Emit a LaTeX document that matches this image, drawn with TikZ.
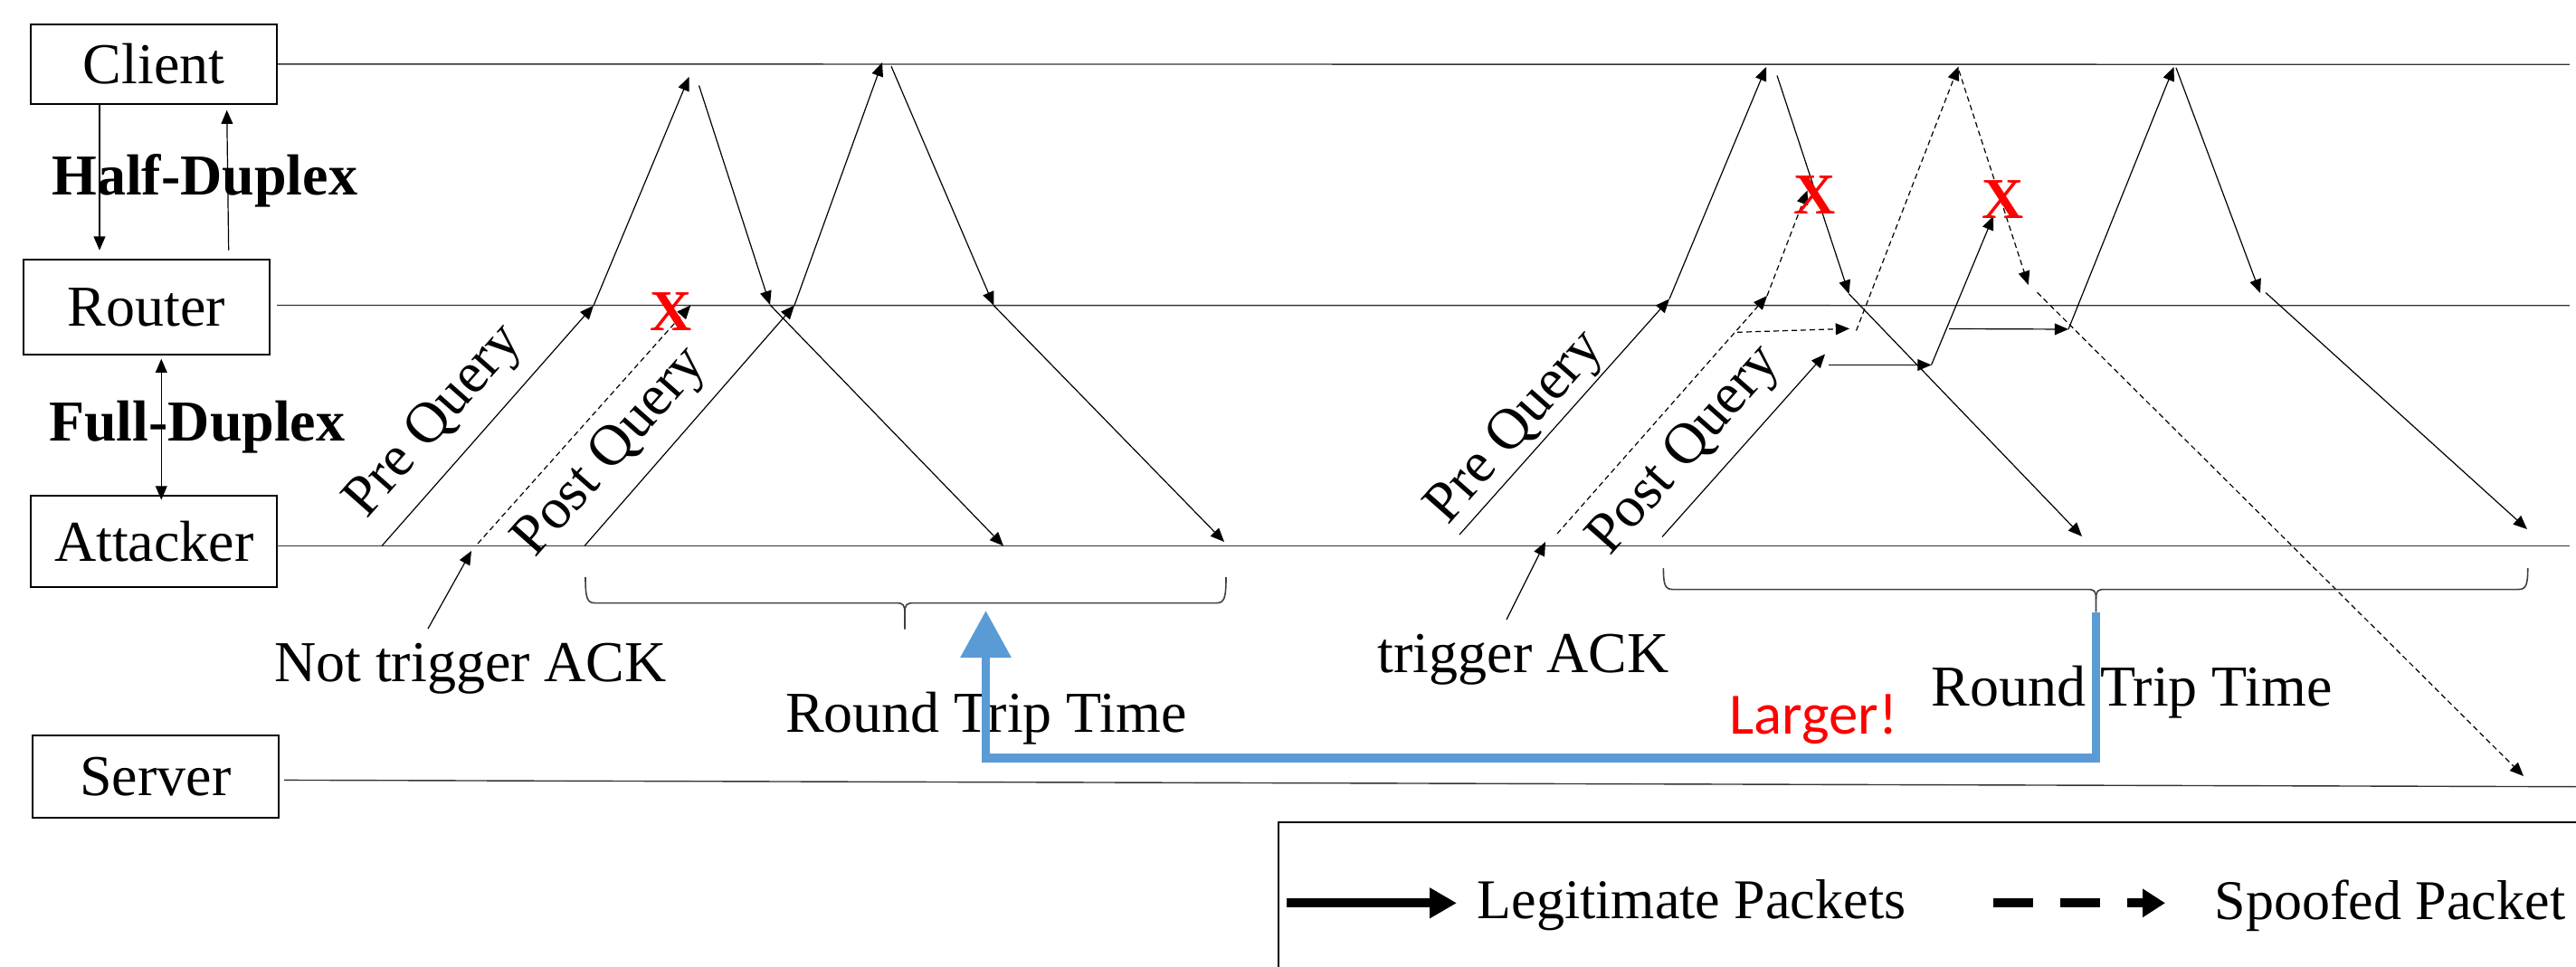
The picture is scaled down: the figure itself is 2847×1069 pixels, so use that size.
\documentclass[tikz,border=0pt]{standalone}
\usepackage{fontspec}
\setmainfont{Liberation Serif}
\newfontfamily\calibrifont{Carlito}
\usetikzlibrary{arrows.meta}
\definecolor{rttblue}{RGB}{91,155,213}
\definecolor{bracegray}{RGB}{64,64,64}

\begin{document}
\begin{tikzpicture}[x=0.25pt,y=-0.25pt,
  every node/.style={font=\fontsize{16pt}{19pt}\selectfont, inner sep=0pt},
  entity/.style={draw, line width=0.5pt, inner sep=0pt},
  lifeline/.style={line width=0.35pt, draw=black!80},
  msg/.style={line width=0.3pt, -{Triangle[length=3.8pt,width=3.2pt]}},
  spoof/.style={msg, dash pattern=on 1.5pt off 1pt},
  dropmark/.style={text=red, font=\fontsize{16pt}{19pt}\selectfont\bfseries},
  duplexlabel/.style={font=\fontsize{16pt}{19pt}\selectfont\bfseries},
  tiltlabel/.style={rotate=48.5},
  rttbrace/.style={line width=0.4pt, draw=bracegray},
  legendtext/.style={font=\fontsize{15.5pt}{18pt}\selectfont},
]
\useasboundingbox (0,0) rectangle (2847,1069);
\clip (0,0) rectangle (2847,1069);

% entities
\node[entity, minimum width=68pt, minimum height=22.1pt] (client) at (170,70.85) {Client};
\node[entity, minimum width=67.9pt, minimum height=26.45pt] (router) at (161.75,339.6) {Router};
\node[entity, minimum width=67.9pt, minimum height=25.25pt] (attacker) at (170.2,598.5) {Attacker};
\node[entity, minimum width=68.1pt, minimum height=22.65pt] (server) at (171.9,858.3) {Server};

% lifelines
\coordinate (clientEnd) at (2840,71.3);
\coordinate (routerStart) at (306,337.5);
\coordinate (routerEnd) at (2840,337.8);
\coordinate (attackerStart) at (306,603.5);
\coordinate (attackerEnd) at (2840,603.5);
\coordinate (serverStart) at (314,862.4);
\coordinate (serverEnd) at (2847,869.7);
\draw[lifeline] (client.east) -- (clientEnd);
\draw[lifeline] (routerStart) -- (routerEnd);
\draw[lifeline] (attackerStart) -- (attackerEnd);
\draw[lifeline] (serverStart) -- (serverEnd);

% link types
\coordinate (hdDown) at (110,276.7);
\coordinate (hdUpFrom) at (252.7,276.7);
\coordinate (hdUpTo) at (250.7,121.7);
\node[duplexlabel, anchor=base] (half) at (226.3,215.5) {Half-Duplex};
\draw[msg] (client.south -| hdDown) -- (hdDown);
\draw[msg] (hdUpFrom) -- (hdUpTo);
\coordinate (fdTop) at (178.3,396.7);
\coordinate (fdBot) at (178.3,552.5);
\node[duplexlabel, anchor=base] (full) at (217.8,487) {Full-Duplex};
\draw[line width=0.3pt, {Triangle[length=3.8pt,width=3.2pt]}-{Triangle[length=3.8pt,width=3.2pt]}] (fdTop) -- (fdBot);

% ---- first measurement: spoofed ACK does not trigger ----
\coordinate (a1s) at (422,603.5);  \coordinate (a1r) at (656,337.8);  \coordinate (a1c) at (761.5,85);
\coordinate (a2s) at (528,601);    \coordinate (a2r) at (763.3,337.5);
\coordinate (a3s) at (646,603.5);  \coordinate (a3r) at (878,337.5);  \coordinate (a3c) at (975,69);
\coordinate (a4c) at (772.5,94.5); \coordinate (a4r) at (851,337);    \coordinate (a4a) at (1109,603.5);
\coordinate (a5c) at (985,73.3);   \coordinate (a5r) at (1098.3,337.8); \coordinate (a5a) at (1353,599);
\draw[msg] (a1s) -- (a1r); \draw[msg] (a1r) -- (a1c);
\draw[spoof] (a2s) -- (a2r);
\draw[msg] (a3s) -- (a3r); \draw[msg] (a3r) -- (a3c);
\draw[msg] (a4c) -- (a4r); \draw[msg] (a4r) -- (a4a);
\draw[msg] (a5c) -- (a5r); \draw[msg] (a5r) -- (a5a);
\node[dropmark] (drop1) at (741.7,345) {X};
\node[tiltlabel] (pre1) at (481,467) {Pre Query};
\node[tiltlabel] (post1) at (676,501) {Post Query};

\coordinate (ntFrom) at (473,695); \coordinate (ntTo) at (521,609);
\node[anchor=base] (notack) at (520,753) {Not trigger ACK};
\draw[msg] (ntFrom) -- (ntTo);

% ---- second measurement: spoofed ACK triggers ----
\coordinate (r1s) at (1613,591);   \coordinate (r1r) at (1845,330.5); \coordinate (r1c) at (1952,74);
\coordinate (r2c) at (1964,83.5);  \coordinate (r2r) at (2043.5,325); \coordinate (r2a) at (2301,593);
\coordinate (r3s) at (1721,590);   \coordinate (r3r) at (1953,327);   \coordinate (r3x) at (1997.5,210.5);
\coordinate (r3hs) at (1920,367.3); \coordinate (r3he) at (2044,363.3);
\coordinate (r3us) at (2051.5,365.5); \coordinate (r3uc) at (2164.5,73.5);
\coordinate (r3dc) at (2165,78);   \coordinate (r3dx) at (2241.7,315);
\coordinate (r3es) at (2251.5,323.3); \coordinate (r3ee) at (2789,858);
\coordinate (r4s) at (1837,593.5); \coordinate (r4e) at (2017,391.5);
\coordinate (r4hs) at (2021,403.5); \coordinate (r4he) at (2134.5,403.5);
\coordinate (r4x) at (2203,239);
\coordinate (r5hs) at (2154,363.5); \coordinate (r5he) at (2286,364);
\coordinate (r5c) at (2402.5,74);
\coordinate (r6c) at (2405,75);    \coordinate (r6r) at (2498,324);
\coordinate (r6s) at (2504,323.5); \coordinate (r6a) at (2793,585);

\draw[msg] (r1s) -- (r1r); \draw[msg] (r1r) -- (r1c);
\draw[msg] (r2c) -- (r2r); \draw[msg] (r2r) -- (r2a);
\draw[spoof] (r3s) -- (r3r); \draw[spoof] (r3r) -- (r3x);
\draw[spoof] (r3hs) -- (r3he);
\draw[spoof] (r3us) -- (r3uc);
\draw[spoof] (r3dc) -- (r3dx);
\draw[spoof] (r3es) -- (r3ee);
\draw[msg] (r4s) -- (r4e);
\draw[msg] (r4hs) -- (r4he);
\draw[msg] (r4he) -- (r4x);
\draw[msg] (r5hs) -- (r5he);
\draw[msg] (r5he) -- (r5c);
\draw[msg] (r6c) -- (r6r); \draw[msg] (r6s) -- (r6a);
\node[dropmark] (drop2) at (2006,216) {X};
\node[dropmark] (drop3) at (2214,221) {X};
\node[tiltlabel] (pre2) at (1676,474) {Pre Query};
\node[tiltlabel] (post2) at (1863.5,499) {Post Query};

\coordinate (tFrom) at (1665,685); \coordinate (tTo) at (1708,599);
\node[anchor=base] (trigack) at (1683.6,743) {trigger ACK};
\draw[msg] (tFrom) -- (tTo);

% round trip time braces
\coordinate (brace1tip) at (1000,695.5);
\draw[rttbrace] (647,638) .. controls (647,662) and (649,666.6) .. (658,666.6) -- (990,666.6)
  .. controls (998,666.6) and (1000,668) .. (1000,678) -- (brace1tip);
\draw[rttbrace] (1000,678) .. controls (1000,668) and (1002,666.6) .. (1010,666.6) -- (1344,666.6)
  .. controls (1353,666.6) and (1355,662) .. (1355,638);
\coordinate (brace2tip) at (2316.5,676.5);
\draw[rttbrace] (1838.4,628) .. controls (1838.4,647) and (1840.4,651.6) .. (1849,651.6) -- (2307,651.6)
  .. controls (2314.5,651.6) and (2316.5,653) .. (2316.5,662) -- (brace2tip);
\draw[rttbrace] (2316.5,662) .. controls (2316.5,653) and (2318.5,651.6) .. (2326,651.6) -- (2783,651.6)
  .. controls (2791.7,651.6) and (2793.7,647) .. (2793.7,628);

\node[anchor=base] (rtt1) at (1090,809.7) {Round Trip Time};
\node[anchor=base] (rtt2) at (2356,780) {Round Trip Time};
\node[anchor=base, text=red, font=\calibrifont\fontsize{16.2pt}{19pt}\selectfont] (larger) at (2004.6,811.5) {Larger!};

% comparison arrow
\coordinate (cmpTip) at (1089.5,675);
\draw[line width=2.4pt, rttblue, -{Triangle[length=13pt,width=13.5pt]}]
  (brace2tip) -- (2316.5,837.7) -- (1089.5,837.7) -- (cmpTip);

% legend
\draw[line width=0.5pt] (1412.7,1100) -- (1412.7,909) -- (2900,909);
\coordinate (lgS) at (1422,998.3); \coordinate (lgE) at (1610,998.3);
\draw[line width=2.5pt, -{Triangle[length=7.5pt,width=8pt]}] (lgS) -- (lgE);
\node[legendtext, anchor=base west] (lgtext) at (1632,1015) {Legitimate Packets};
\coordinate (lsS) at (2203,998.3); \coordinate (lsE) at (2393,998.3);
\draw[line width=2.5pt, dash pattern=on 11pt off 7.5pt, -{Triangle[length=6.25pt,width=7.5pt]}] (lsS) -- (lsE);
\node[legendtext, anchor=base west] (sptext) at (2447,1016) {Spoofed Packet};
\end{tikzpicture}
\end{document}
